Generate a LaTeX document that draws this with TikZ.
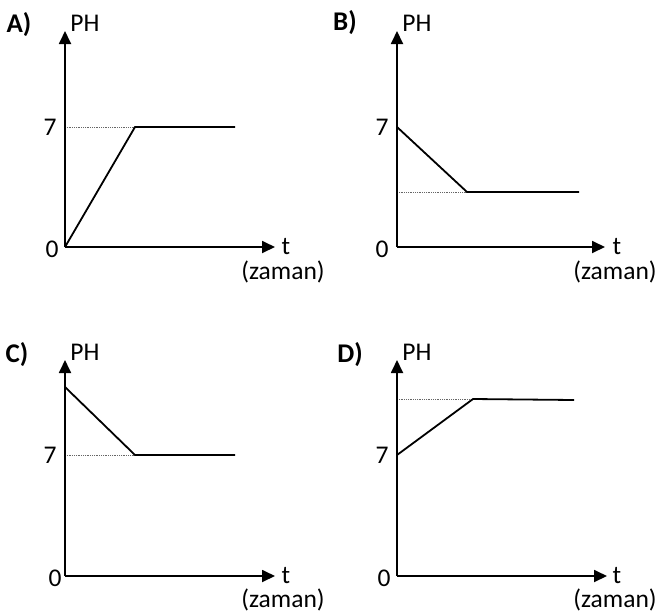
\documentclass[tikz,border=0pt]{standalone}
\usepackage{fontspec}
\setmainfont{Carlito}
\usetikzlibrary{arrows.meta}
\tikzset{
  axis/.style={line width=1.8pt, -{Triangle[length=13pt,width=12pt]}},
  curve/.style={line width=1.8pt},
  guide/.style={line width=0.8pt, densely dotted, black!60},
  lbl/.style={inner sep=0pt, font=\fontsize{25.5}{28}\selectfont},
  panel/.style={inner sep=0pt, font=\fontsize{27}{30}\selectfont\bfseries}
}
\begin{document}
\begin{tikzpicture}[x=1pt, y=-1pt]
  \useasboundingbox (0,0) rectangle (660,613);

  % A) pH rises to 7
  \begin{scope}[shift={(65,247)}]
    \coordinate (A0) at (0,0);
    \coordinate (Ay) at (0,-216);
    \coordinate (Ax) at (210,0);
    \coordinate (A7) at (0,-120);
    \coordinate (Ak) at (70,-120);
    \coordinate (Ae) at (170,-120);
    \node[panel] (Aname) at (-46,-222) {A)};
    \node[lbl] (Aph) at (20,-224) {PH};
    \node[lbl] (Aseven) at (-15,-120) {7};
    \node[lbl] (Azero) at (-13,2) {0};
    \node[lbl] (At) at (221,0) {t};
    \node[lbl] (Azaman) at (218,25) {(zaman)};
    \draw[guide] (A7) -- (Ak);
    \draw[axis] (A0) -- (Ay);
    \draw[axis] (A0) -- (Ax);
    \draw[curve] (A0) -- (Ak) -- (Ae);
  \end{scope}

  % B) pH falls from 7
  \begin{scope}[shift={(397,247)}]
    \coordinate (B0) at (0,0);
    \coordinate (By) at (0,-216);
    \coordinate (Bx) at (208,0);
    \coordinate (B7) at (0,-120);
    \coordinate (Bl) at (0,-55);
    \coordinate (Bk) at (70,-55);
    \coordinate (Be) at (182,-55);
    \node[panel] (Bname) at (-52,-224) {B)};
    \node[lbl] (Bph) at (20,-224) {PH};
    \node[lbl] (Bseven) at (-15,-120) {7};
    \node[lbl] (Bzero) at (-15,2) {0};
    \node[lbl] (Bt) at (220,0) {t};
    \node[lbl] (Bzaman) at (218,25) {(zaman)};
    \draw[guide] (Bl) -- (Bk);
    \draw[axis] (B0) -- (By);
    \draw[axis] (B0) -- (Bx);
    \draw[curve] (B7) -- (Bk) -- (Be);
  \end{scope}

  % C) pH falls to 7
  \begin{scope}[shift={(65,576)}]
    \coordinate (C0) at (0,0);
    \coordinate (Cy) at (0,-216);
    \coordinate (Cx) at (210,0);
    \coordinate (C7) at (0,-121);
    \coordinate (Cs) at (0,-189);
    \coordinate (Ck) at (70,-121);
    \coordinate (Ce) at (170,-121);
    \node[panel] (Cname) at (-48,-221) {C)};
    \node[lbl] (Cph) at (20,-224) {PH};
    \node[lbl] (Cseven) at (-15,-121) {7};
    \node[lbl] (Czero) at (-10,2) {0};
    \node[lbl] (Ct) at (221,0) {t};
    \node[lbl] (Czaman) at (218,24) {(zaman)};
    \draw[guide] (C7) -- (Ck);
    \draw[axis] (C0) -- (Cy);
    \draw[axis] (C0) -- (Cx);
    \draw[curve] (Cs) -- (Ck) -- (Ce);
  \end{scope}

  % D) pH rises from 7
  \begin{scope}[shift={(397,576)}]
    \coordinate (D0) at (0,0);
    \coordinate (Dy) at (0,-216);
    \coordinate (Dx) at (210,0);
    \coordinate (D7) at (0,-121);
    \coordinate (Dl) at (0,-177);
    \coordinate (Dk) at (76,-177);
    \coordinate (De) at (177,-176);
    \node[panel] (Dname) at (-47,-221) {D)};
    \node[lbl] (Dph) at (20,-224) {PH};
    \node[lbl] (Dseven) at (-15,-121) {7};
    \node[lbl] (Dzero) at (-13,2) {0};
    \node[lbl] (Dt) at (220,0) {t};
    \node[lbl] (Dzaman) at (218,24) {(zaman)};
    \draw[guide] (Dl) -- (Dk);
    \draw[axis] (D0) -- (Dy);
    \draw[axis] (D0) -- (Dx);
    \draw[curve] (D7) -- (Dk) -- (De);
  \end{scope}
\end{tikzpicture}
\end{document}
